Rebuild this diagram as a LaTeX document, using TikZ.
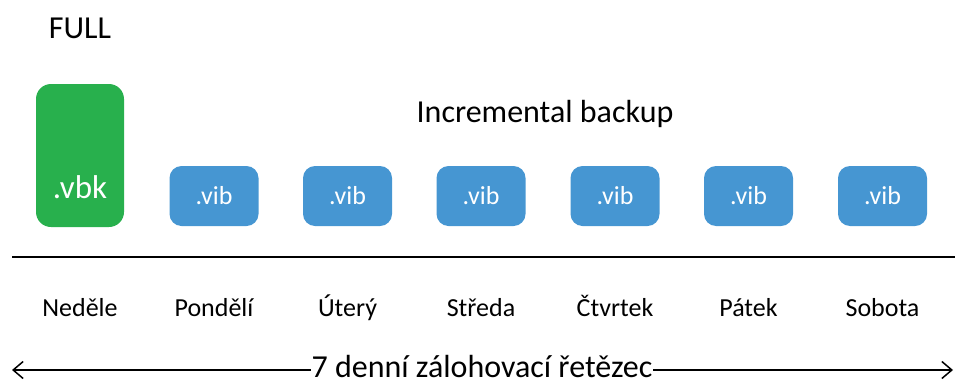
\documentclass[tikz,border=0pt]{standalone}
\usepackage{fontspec}
\setmainfont{Carlito}
\usetikzlibrary{arrows.meta}

\definecolor{fullgreen}{RGB}{40,176,77}
\definecolor{incblue}{RGB}{70,150,210}

\tikzset{
    fullbox/.style={fill=fullgreen, rounded corners=15pt, minimum width=88pt, minimum height=143pt, inner sep=0pt},
    incbox/.style={fill=incblue, rounded corners=12pt, minimum width=89pt, minimum height=60pt, inner sep=0pt,
        text=white, font=\fontsize{26}{31}\selectfont},
    daylabel/.style={anchor=base, font=\fontsize{26}{31}\selectfont},
    bigtext/.style={anchor=base, font=\fontsize{32}{38}\selectfont}
}

\begin{document}
\begin{tikzpicture}[x=1pt, y=-1pt]
    \useasboundingbox (0,0) rectangle (955,383);

    % the texts on top
    \node[bigtext] (full) at (80,38) {FULL};
    \node[bigtext] (incr) at (545,122) {Incremental backup};

    % the full backup
    \node[fullbox] (vbk) at (80,155.5) {};
    \node[anchor=base, text=white, font=\fontsize{33}{40}\selectfont] (vbktext) at (80,198) {.vbk};

    % the incremental backups
    \node[incbox] (vib1) at (214,196) {.vib};
    \node[incbox] (vib2) at (347.5,196) {.vib};
    \node[incbox] (vib3) at (481,196) {.vib};
    \node[incbox] (vib4) at (615,196) {.vib};
    \node[incbox] (vib5) at (748.5,196) {.vib};
    \node[incbox] (vib6) at (882.5,196) {.vib};

    % the line under the files
    \coordinate (lineL) at (12,257);
    \coordinate (lineR) at (955,257);
    \draw[line width=2pt] (lineL) -- (lineR);

    % the days
    \node[daylabel] (ne) at (80,316) {Neděle};
    \node[daylabel] (po) at (214,316) {Pondělí};
    \node[daylabel] (ut) at (347.5,316) {Úterý};
    \node[daylabel] (st) at (481,316) {Středa};
    \node[daylabel] (ct) at (615,316) {Čtvrtek};
    \node[daylabel] (pa) at (748.5,316) {Pátek};
    \node[daylabel] (so) at (882.5,316) {Sobota};

    % the chain arrow
    \coordinate (chainL) at (12,370);
    \coordinate (chainR) at (953,370);
    \draw[line width=1.5pt, {Straight Barb[length=10pt,width=17pt]}-{Straight Barb[length=10pt,width=17pt]}] (chainL) -- (chainR);
    \node[bigtext, fill=white, inner xsep=1pt, inner ysep=0pt] (chain) at (482,377) {7 denní zálohovací řetězec};
\end{tikzpicture}
\end{document}
